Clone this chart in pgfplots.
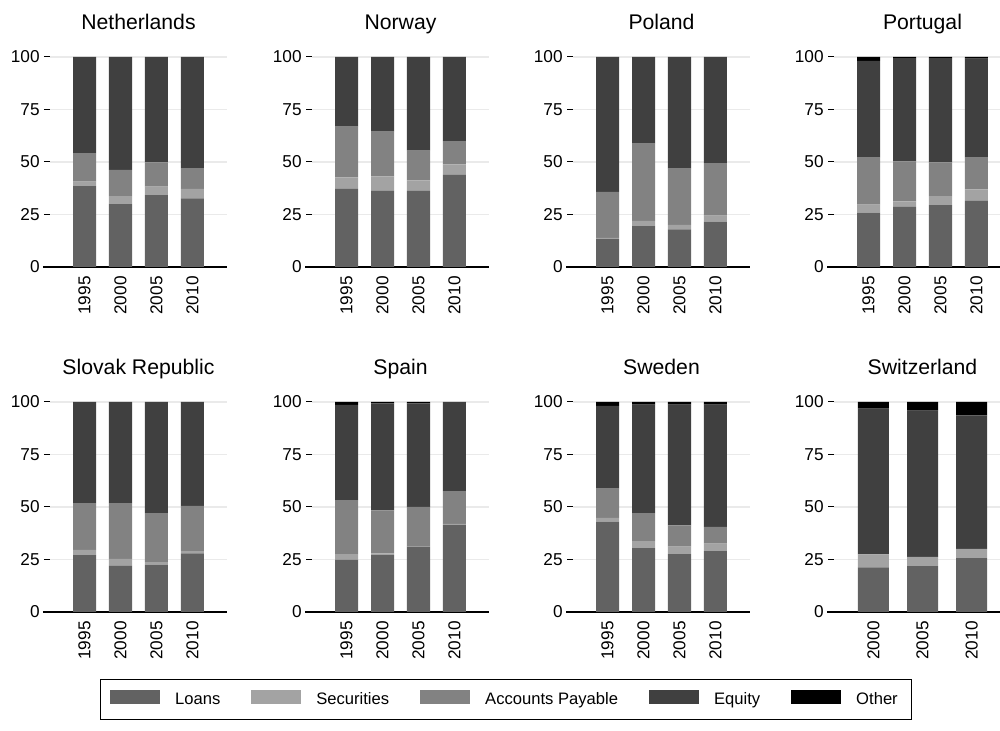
\documentclass[border=0pt]{standalone}
\usepackage{pgfplots}
\usepackage{pgfplotstable}
\pgfplotsset{compat=1.18}
\usepackage{fontspec}
\setmainfont{Liberation Sans}

\definecolor{cLoans}{HTML}{626262}
\definecolor{cSec}{HTML}{A3A3A3}
\definecolor{cAP}{HTML}{828282}
\definecolor{cEq}{HTML}{404040}
\definecolor{cOth}{HTML}{000000}
\definecolor{cGrid}{HTML}{EAEAEA}

% shares of liabilities (percent): loans, securities, accounts payable, equity, other
\pgfplotstableread{
x L S A E O
0 38.5 2.2 13.5 45.8 0
1 29.9 3.8 12.5 53.8 0
2 34.2 4.1 11.5 50.2 0
3 32.7 4.5 9.9 52.9 0
}\Netherlands
\pgfplotstableread{
x L S A E O
0 37.2 5.5 24.1 33.2 0
1 36.3 6.8 21.4 35.5 0
2 36.3 4.9 14.2 44.6 0
3 43.9 5.0 11.0 40.1 0
}\Norway
\pgfplotstableread{
x L S A E O
0 13.3 0.6 21.9 64.2 0
1 19.5 2.5 36.8 41.2 0
2 17.9 2.2 26.7 53.2 0
3 21.6 2.8 25.0 50.6 0
}\Poland
\pgfplotstableread{
x L S A E O
0 25.9 3.8 22.4 46.1 1.8
1 28.6 2.7 19.0 49.1 0.6
2 29.4 4.3 16.1 49.6 0.6
3 31.5 5.4 15.2 47.1 0.8
}\Portugal
\pgfplotstableread{
x L S A E O
0 27.1 2.5 22.2 48.2 0
1 22.0 3.3 26.6 48.1 0
2 22.5 1.2 23.4 52.9 0
3 27.9 1.1 21.5 49.5 0
}\Slovak
\pgfplotstableread{
x L S A E O
0 24.8 2.7 25.8 45.3 1.4
1 27.1 0.8 20.5 51.0 0.6
2 31.1 0.3 18.6 49.4 0.6
3 41.4 0.6 15.6 42.4 0
}\Spain
\pgfplotstableread{
x L S A E O
0 43.0 1.8 14.0 39.3 1.9
1 30.4 3.4 13.3 51.6 1.3
2 27.5 3.6 10.1 57.5 1.3
3 29.0 3.6 7.9 58.2 1.3
}\Sweden
\pgfplotstableread{
x L S A E O
0 21.3 6.1 0 69.4 3.2
1 21.8 4.5 0 69.6 4.1
2 25.6 4.5 0 63.5 6.4
}\Switzerland

\pgfplotsset{
  panel/.style={
    scale only axis,
    width=88.5pt, height=105pt,
    anchor=south west,
    ybar stacked,
    bar width=0.64,
    xmin=-0.96, xmax=3.96,
    ymin=0, ymax=100,
    ytick={0,25,50,75,100},
    xtick={0,1,2,3},
    xticklabels={1995,2000,2005,2010},
    axis x line*=bottom,
    axis y line*=left,
    x axis line style={-, black, line width=0.6pt, shorten <=-3.5pt},
    y axis line style={draw=none},
    ymajorgrids,
    grid style={cGrid, line width=0.6pt},
    tick align=outside,
    major tick length=3pt,
    ytick style={black, line width=0.5pt},
    xtick style={draw=none},
    ytick pos=left,
    /pgf/number format/assume math mode=true,
    ticklabel style={font=\fontsize{8.6}{10}\selectfont},
    y tick label style={inner sep=2pt},
    x tick label style={rotate=90, anchor=east, inner sep=1.5pt},
    title style={font=\fontsize{10.6}{12}\selectfont, at={(0.5,1)}, anchor=base, yshift=7.5pt},
    legend style={
      font=\fontsize{8.3}{9}\selectfont,
      draw=black, line width=0.5pt,
      legend columns=5,
      at={(2.576,-0.417)}, anchor=center,
      inner xsep=5pt, inner ysep=4pt,
      /tikz/every odd column/.append style={column sep=5.5pt},
      /tikz/every even column/.append style={column sep=13.5pt},
    },
    legend image code/.code={\fill[##1] (0pt,-2.4pt) rectangle (25pt,4.6pt);},
  },
}

\newcommand{\panel}[5]{%
  \begin{axis}[panel, at={(#1,#2)}, title={#3}, #5]
    \addplot[fill=cLoans, draw=none] table[x=x, y=L] {#4};
    \addplot[fill=cSec,   draw=none] table[x=x, y=S] {#4};
    \addplot[fill=cAP,    draw=none] table[x=x, y=A] {#4};
    \addplot[fill=cEq,    draw=none] table[x=x, y=E] {#4};
    \addplot[fill=cOth,   draw=none] table[x=x, y=O] {#4};
  \end{axis}}

\begin{document}
\begin{tikzpicture}
  \useasboundingbox (0,0) rectangle (500pt,365.5pt);
  \panel{25pt}{232pt}{Netherlands}{\Netherlands}{}
  \panel{156pt}{232pt}{Norway}{\Norway}{}
  \panel{286.5pt}{232pt}{Poland}{\Poland}{}
  \panel{417pt}{232pt}{Portugal}{\Portugal}{}
  \panel{25pt}{59.5pt}{Slovak Republic}{\Slovak}{legend entries={\strut Loans,\strut Securities,\strut Accounts Payable,\strut Equity,\strut Other}}
  \panel{156pt}{59.5pt}{Spain}{\Spain}{}
  \panel{286.5pt}{59.5pt}{Sweden}{\Sweden}{}
  \panel{417pt}{59.5pt}{Switzerland}{\Switzerland}{xmin=-0.8, xmax=2.8, bar width=0.63, xtick={0,1,2}, xticklabels={2000,2005,2010}}
\end{tikzpicture}
\end{document}
